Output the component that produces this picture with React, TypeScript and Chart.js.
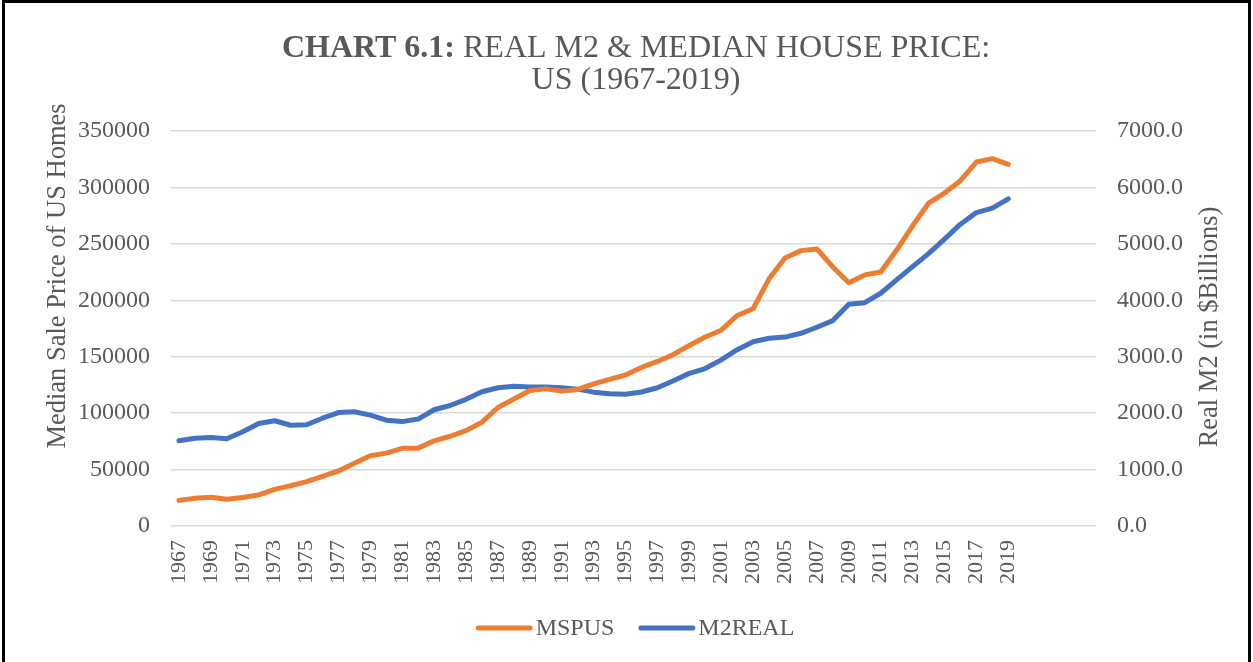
import React, { useEffect, useRef } from "react";
import { Chart, registerables } from "chart.js";

Chart.register(...registerables);

const categories: string[] = [
  "1967", "1968", "1969", "1970", "1971", "1972", "1973", "1974", "1975", "1976",
  "1977", "1978", "1979", "1980", "1981", "1982", "1983", "1984", "1985", "1986",
  "1987", "1988", "1989", "1990", "1991", "1992", "1993", "1994", "1995", "1996",
  "1997", "1998", "1999", "2000", "2001", "2002", "2003", "2004", "2005", "2006",
  "2007", "2008", "2009", "2010", "2011", "2012", "2013", "2014", "2015", "2016",
  "2017", "2018", "2019", "", "", "", "", "",
];

const mspus: number[] = [
  22700, 24600, 25400, 23700, 25200, 27500, 32500, 35700, 39300, 44000,
  48800, 55700, 62300, 64600, 68800, 69000, 75500, 79500, 84500, 92000,
  105000, 112500, 120000, 121500, 119500, 121000, 126000, 130000, 133800, 140500,
  145800, 152000, 160000, 167500, 173500, 186500, 192500, 219000, 237500, 244000,
  245500, 229500, 215500, 222500, 225000, 244500, 266000, 286000, 295000, 306000,
  322500, 325500, 320500,
];

const m2real: number[] = [
  1510, 1555, 1570, 1545, 1670, 1815, 1865, 1785, 1795, 1910,
  2010, 2025, 1965, 1875, 1850, 1895, 2060, 2135, 2245, 2380,
  2450, 2478, 2465, 2465, 2452, 2425, 2372, 2345, 2335, 2375,
  2450, 2575, 2705, 2790, 2945, 3125, 3265, 3328, 3348, 3415,
  3522, 3640, 3930, 3958, 4125, 4362, 4597, 4828, 5083, 5349,
  5555, 5633, 5798,
];

const seriesNames: string[] = ["MSPUS", "M2REAL"];
const seriesColors: string[] = ["#ED7D31", "#4472C4"];

const titleBold = "CHART 6.1:";
const titleRest = " REAL M2 & MEDIAN HOUSE PRICE:";
const titleLine2 = "US (1967-2019)";
const leftAxisTitle = "Median Sale Price of US Homes";
const rightAxisTitle = "Real M2 (in $Billions)";

const FONT = '"Liberation Serif", "Times New Roman", serif';
const TEXT = "#595959";

const overlayPlugin = {
  id: "overlayText",
  afterDraw(chart: any) {
    const ctx: CanvasRenderingContext2D = chart.ctx;
    ctx.save();
    ctx.fillStyle = TEXT;
    // Title
    const cx = 636;
    ctx.textBaseline = "alphabetic";
    ctx.textAlign = "left";
    ctx.font = `bold 32px ${FONT}`;
    const w1 = ctx.measureText(titleBold).width;
    ctx.font = `32px ${FONT}`;
    const w2 = ctx.measureText(titleRest).width;
    const x0 = cx - (w1 + w2) / 2;
    ctx.font = `bold 32px ${FONT}`;
    ctx.fillText(titleBold, x0, 57);
    ctx.font = `32px ${FONT}`;
    ctx.fillText(titleRest, x0 + w1, 57);
    ctx.textAlign = "center";
    ctx.fillText(titleLine2, cx, 89);

    // Axis titles
    ctx.font = `26.5px ${FONT}`;
    ctx.textBaseline = "middle";
    ctx.save();
    ctx.translate(58, 276);
    ctx.rotate(-Math.PI / 2);
    ctx.fillText(leftAxisTitle, 0, 0);
    ctx.restore();
    ctx.save();
    ctx.translate(1210, 327);
    ctx.rotate(-Math.PI / 2);
    ctx.fillText(rightAxisTitle, 0, 0);
    ctx.restore();

    // Legend
    ctx.font = `24px ${FONT}`;
    const lineLen = 52;
    const cap = 2.5;
    const gapText = 3;
    const spacing = 24;
    const ds = chart.data.datasets;
    const widths = ds.map((d: any) => cap + lineLen + cap + gapText + ctx.measureText(d.label).width);
    const total = widths.reduce((a: number, b: number) => a + b, 0) + spacing * (ds.length - 1);
    let lx = 635 - total / 2;
    const ly = 628;
    ds.forEach((d: any, i: number) => {
      ctx.strokeStyle = d.borderColor;
      ctx.lineWidth = 5;
      ctx.lineCap = "round";
      ctx.beginPath();
      ctx.moveTo(lx + cap, ly);
      ctx.lineTo(lx + cap + lineLen, ly);
      ctx.stroke();
      ctx.textAlign = "left";
      ctx.textBaseline = "middle";
      ctx.fillStyle = TEXT;
      ctx.fillText(d.label, lx + cap * 2 + lineLen + gapText, ly + 1);
      lx += widths[i] + spacing;
    });
    ctx.restore();
  },
};

export default function App() {
  const ref = useRef<HTMLCanvasElement | null>(null);

  useEffect(() => {
    document.body.style.margin = "0";
    const canvas = ref.current;
    if (!canvas) return;
    const chart = new Chart(canvas, {
      type: "line",
      data: {
        labels: categories,
        datasets: [
          {
            label: seriesNames[0],
            data: mspus,
            yAxisID: "y",
            borderColor: seriesColors[0],
            backgroundColor: seriesColors[0],
            borderWidth: 5,
            borderCapStyle: "round",
            borderJoinStyle: "round",
            pointRadius: 0,
            tension: 0,
            fill: false,
          },
          {
            label: seriesNames[1],
            data: m2real,
            yAxisID: "y1",
            borderColor: seriesColors[1],
            backgroundColor: seriesColors[1],
            borderWidth: 5,
            borderCapStyle: "round",
            borderJoinStyle: "round",
            pointRadius: 0,
            tension: 0,
            fill: false,
          },
        ],
      },
      options: {
        responsive: false,
        animation: false,
        layout: { padding: { top: 131, bottom: 56, left: 0, right: 0 } },
        plugins: {
          legend: { display: false },
          title: { display: false },
          tooltip: { enabled: false },
        },
        scales: {
          x: {
            type: "category",
            offset: true,
            grid: { display: false, drawTicks: false },
            border: { display: false },
            afterFit: (s: any) => { s.height = 80; },
            ticks: {
              autoSkip: false,
              minRotation: 90,
              maxRotation: 90,
              padding: 14,
              color: TEXT,
              font: { family: FONT, size: 22 },
              callback: function (this: any, _v: any, i: number) {
                const l = categories[i];
                return i % 2 === 0 && l ? l : "";
              },
            },
          },
          y: {
            position: "left",
            min: 0,
            max: 350000,
            afterFit: (s: any) => { s.width = 171; },
            grid: { color: "#D9D9D9", lineWidth: 1.5, drawTicks: false },
            border: { display: false },
            ticks: {
              stepSize: 50000,
              padding: 21,
              color: TEXT,
              font: { family: FONT, size: 24 },
              callback: (v: any) => String(v),
            },
          },
          y1: {
            position: "right",
            min: 0,
            max: 7000,
            afterFit: (s: any) => { s.width = 157; },
            grid: { drawOnChartArea: false, drawTicks: false },
            border: { display: false },
            ticks: {
              stepSize: 1000,
              padding: 21,
              color: TEXT,
              font: { family: FONT, size: 24 },
              callback: (v: any) => Number(v).toFixed(1),
            },
          },
        },
      },
      plugins: [overlayPlugin],
    } as any);
    return () => chart.destroy();
  }, []);

  return (
    <div style={{ position: "fixed", left: 0, top: 0, width: 1253, height: 662, background: "#fff" }}>
      <canvas ref={ref} width={1253} height={662} style={{ display: "block", width: 1253, height: 662 }} />
      <div
        style={{
          position: "absolute",
          left: 2,
          top: 0,
          width: 1249,
          height: 662,
          boxSizing: "border-box",
          borderLeft: "3px solid #000",
          borderTop: "3px solid #000",
          borderRight: "3px solid #000",
          pointerEvents: "none",
        }}
      />
    </div>
  );
}
